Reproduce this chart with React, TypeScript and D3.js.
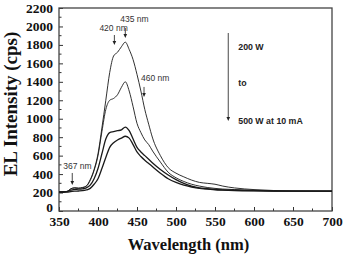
import { useEffect, useRef } from 'react';
import * as d3 from 'd3';

// wavelengths (nm) shared by all spectra
const wavelengths = [350, 360, 365, 370, 375, 380, 385, 390, 395, 400, 405, 410, 415, 420, 425, 430, 435, 440, 445, 450, 455, 460, 465, 470, 480, 490, 500, 510, 520, 530, 540, 550, 560, 575, 600, 625, 650, 700];

// EL intensity (cps), 200 W -> 500 W
const series200 = [208, 212, 240, 252, 248, 255, 272, 340, 450, 620, 900, 1200, 1500, 1680, 1720, 1780, 1830, 1750, 1640, 1480, 1300, 1100, 940, 790, 600, 470, 410, 370, 335, 310, 300, 290, 270, 250, 232, 222, 217, 215];
const series300 = [208, 212, 238, 250, 246, 252, 268, 330, 440, 600, 860, 1100, 1200, 1220, 1260, 1340, 1400, 1300, 1130, 950, 850, 770, 720, 650, 530, 420, 360, 320, 290, 270, 255, 245, 238, 232, 224, 219, 217, 215];
const series400 = [205, 210, 225, 235, 236, 240, 250, 280, 350, 460, 620, 780, 850, 860, 870, 880, 910, 870, 780, 690, 640, 600, 560, 520, 450, 390, 340, 300, 270, 250, 242, 235, 230, 225, 220, 217, 215, 215];
const series500 = [202, 205, 210, 215, 217, 220, 228, 245, 290, 350, 460, 580, 690, 740, 770, 790, 810, 790, 720, 640, 590, 550, 515, 480, 410, 350, 310, 280, 260, 245, 238, 230, 226, 222, 218, 216, 215, 215];

const allSeries = [series200, series300, series400, series500];

const yTicks = [0, 200, 400, 600, 800, 1000, 1200, 1400, 1600, 1800, 2000, 2200];
const xTicks = [350, 400, 450, 500, 550, 600, 650, 700];

// peak annotations: label, wavelength, value at arrow tip
const peakNames = ['420 nm', '435 nm', '460 nm', '367 nm'];
const peakWl = [421, 435, 459, 367];
const peakTip = [1799, 1875, 1236, 282];

const powerLabels = ['200 W', 'to', '500 W at 10 mA'];

const App = () => {
  const ref = useRef<SVGSVGElement>(null);

  useEffect(() => {
    const svg = d3.select(ref.current);
    svg.selectAll('*').remove();
    const width = 343;
    const height = 254;
    const margin = { top: 8, right: 11, bottom: 43, left: 59 };
    const innerWidth = width - margin.left - margin.right;
    const innerHeight = height - margin.top - margin.bottom;
    const serif = "'Liberation Serif', Tinos, 'Times New Roman', 'DejaVu Serif', serif";
    const sans = "'Liberation Sans', Arial, sans-serif";

    const xScale = d3.scaleLinear().domain([350, 700]).range([0, innerWidth]);
    const yScale = d3.scaleLinear().domain([0, 2200]).range([innerHeight, 0]);

    const g = svg.append('g').attr('transform', `translate(${margin.left},${margin.top})`);

    // minor ticks
    g.selectAll('.minorY').data(d3.range(100, 2200, 200)).enter().append('line')
      .attr('x1', 0).attr('x2', 2.5)
      .attr('y1', d => yScale(d)).attr('y2', d => yScale(d))
      .attr('stroke', '#333').attr('stroke-width', 1);
    g.selectAll('.minorX').data(d3.range(375, 700, 50)).enter().append('line')
      .attr('x1', d => xScale(d)).attr('x2', d => xScale(d))
      .attr('y1', innerHeight).attr('y2', innerHeight - 2.5)
      .attr('stroke', '#333').attr('stroke-width', 1);

    const yAxisG = g.append('g')
      .call(d3.axisLeft(yScale).tickValues(yTicks).tickFormat(d3.format('d')).tickSizeInner(-4).tickSizeOuter(0).tickPadding(6))
      .attr('font-family', serif).attr('font-size', 13.5).attr('font-weight', 'bold');
    yAxisG.select('.domain').remove();
    yAxisG.selectAll('.tick line').attr('stroke', '#333');
    yAxisG.selectAll<SVGTextElement, number>('.tick text').attr('fill', '#111')
      .attr('dy', d => (d === 0 ? '0.05em' : '0.3em'));

    const xAxisG = g.append('g').attr('transform', `translate(0,${innerHeight})`)
      .call(d3.axisBottom(xScale).tickValues(xTicks).tickFormat(d3.format('d')).tickSizeInner(-4).tickSizeOuter(0).tickPadding(4))
      .attr('font-family', serif).attr('font-size', 13.5).attr('font-weight', 'bold');
    xAxisG.select('.domain').remove();
    xAxisG.selectAll('.tick line').attr('stroke', '#333');
    xAxisG.selectAll('.tick text').attr('fill', '#111').attr('dy', '0.85em');

    // frame
    g.append('rect')
      .attr('width', innerWidth).attr('height', innerHeight)
      .attr('fill', 'none').attr('stroke', '#444').attr('stroke-width', 1.3);

    const line = d3.line<number>()
      .x((d, i) => xScale(wavelengths[i]))
      .y(d => yScale(d))
      .curve(d3.curveMonotoneX);

    g.selectAll('.spectrum').data(allSeries).enter().append('path')
      .attr('d', d => line(d))
      .attr('fill', 'none')
      .attr('stroke', '#1a1a1a')
      .attr('stroke-width', (d, i) => (i < 2 ? 0.9 : 1.3));

    // arrows
    const arrow = (x: number, y1: number, y2: number, head: number) => {
      g.append('line').attr('x1', x).attr('x2', x).attr('y1', y1).attr('y2', y2 - head)
        .attr('stroke', '#333').attr('stroke-width', 0.9);
      g.append('path')
        .attr('d', `M${x - 1.8},${y2 - head - 0.5}L${x + 1.8},${y2 - head - 0.5}L${x},${y2}Z`)
        .attr('fill', '#222');
    };

    const labelDx = [-15, -5, -3, -9];
    peakNames.forEach((label, i) => {
      const x = xScale(peakWl[i]);
      const tipY = yScale(peakTip[i]);
      arrow(x, tipY - (i === 3 ? 12 : 10), tipY, 3.5);
      g.append('text').text(label)
        .attr('x', x + labelDx[i])
        .attr('y', tipY - (i === 0 ? 14 : 16))
        .attr('font-family', sans).attr('font-size', 8.5).attr('fill', '#333');
    });

    // power legend
    const legX = xScale(567);
    arrow(legX, 25, 113, 3.5);
    const legY = [42, 78, 116];
    powerLabels.forEach((t, i) => {
      g.append('text').text(t).attr('x', legX + 10).attr('y', legY[i])
        .attr('font-family', sans).attr('font-size', 8.8).attr('font-weight', 'bold').attr('fill', '#222');
    });

    // axis titles
    svg.append('text').text('Wavelength (nm)')
      .attr('x', margin.left + innerWidth / 2 - 7).attr('y', 250)
      .attr('text-anchor', 'middle')
      .attr('font-family', serif).attr('font-weight', 'bold').attr('font-size', 16.5).attr('fill', '#111');
    svg.append('text').text('EL Intensity (cps)')
      .attr('transform', `translate(17,${margin.top + 96}) rotate(-90)`)
      .attr('text-anchor', 'middle')
      .attr('font-family', serif).attr('font-weight', 'bold').attr('font-size', 19).attr('fill', '#111');
  }, []);

  return (
    <div>
      <svg ref={ref} width={343} height={254} style={{ position: 'absolute', left: 0, top: 0, background: '#fff' }} />
    </div>
  );
};

export default App;
